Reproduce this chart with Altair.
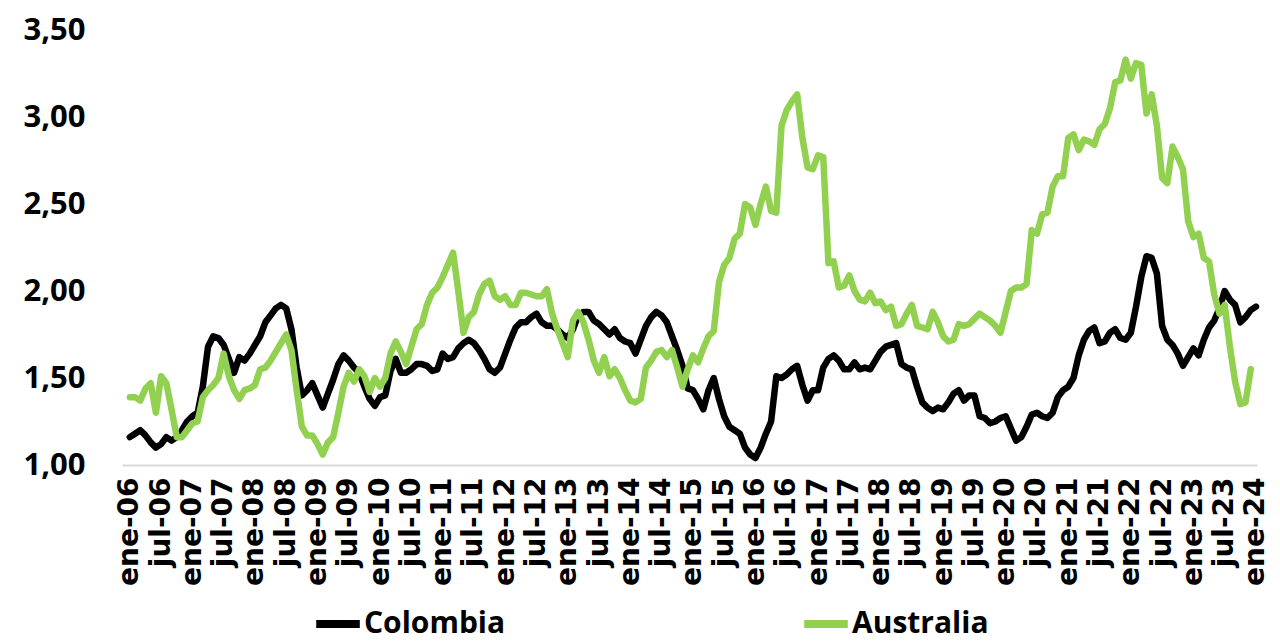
import json
import altair as alt
import pandas as pd

# Monthly series, ene-06 .. ene-24
colombia = [
    1.16, 1.18, 1.20, 1.17, 1.13, 1.10, 1.12, 1.16, 1.14, 1.16, 1.20, 1.25,
    1.28, 1.30, 1.45, 1.68, 1.74, 1.73, 1.69, 1.61, 1.53, 1.62, 1.60, 1.64,
    1.69, 1.74, 1.82, 1.86, 1.90, 1.92, 1.90, 1.78, 1.56, 1.40, 1.43, 1.47,
    1.40, 1.33, 1.41, 1.49, 1.58, 1.63, 1.60, 1.56, 1.53, 1.45, 1.38, 1.34,
    1.39, 1.40, 1.54, 1.61, 1.53, 1.53, 1.55, 1.58, 1.58, 1.57, 1.54, 1.55,
    1.64, 1.61, 1.62, 1.67, 1.70, 1.72, 1.70, 1.66, 1.61, 1.55, 1.53, 1.56,
    1.64, 1.72, 1.79, 1.82, 1.82, 1.85, 1.87, 1.82, 1.80, 1.80, 1.78, 1.75,
    1.73, 1.78, 1.86, 1.88, 1.88, 1.83, 1.81, 1.78, 1.75, 1.78, 1.73, 1.71,
    1.70, 1.64, 1.72, 1.80, 1.85, 1.88, 1.86, 1.82, 1.74, 1.66, 1.57, 1.44,
    1.43, 1.38, 1.32, 1.43, 1.50, 1.38, 1.28, 1.22, 1.20, 1.18, 1.10, 1.06,
    1.04, 1.10, 1.18, 1.25, 1.51, 1.50, 1.52, 1.55, 1.57, 1.46, 1.37, 1.43,
    1.43, 1.56, 1.61, 1.63, 1.60, 1.55, 1.55, 1.59, 1.55, 1.56, 1.55, 1.60,
    1.65, 1.68, 1.69, 1.70, 1.58, 1.56, 1.55, 1.45, 1.36, 1.33, 1.31, 1.33,
    1.32, 1.36, 1.41, 1.43, 1.37, 1.40, 1.40, 1.28, 1.27, 1.24, 1.25, 1.27,
    1.28, 1.21, 1.14, 1.16, 1.22, 1.29, 1.30, 1.28, 1.27, 1.30, 1.39, 1.43,
    1.45, 1.50, 1.63, 1.72, 1.77, 1.79, 1.70, 1.71, 1.76, 1.78, 1.73, 1.72,
    1.76, 1.91, 2.08, 2.20, 2.19, 2.10, 1.80, 1.72, 1.69, 1.64, 1.57, 1.62,
    1.67, 1.63, 1.72, 1.79, 1.83, 1.90, 2.00, 1.95, 1.92, 1.82, 1.85, 1.89,
    1.91,
]

australia = [
    1.39, 1.39, 1.37, 1.44, 1.47, 1.30, 1.51, 1.47, 1.32, 1.16, 1.16, 1.20,
    1.24, 1.25, 1.39, 1.43, 1.46, 1.50, 1.64, 1.51, 1.43, 1.38, 1.43, 1.44,
    1.46, 1.55, 1.56, 1.60, 1.65, 1.70, 1.75, 1.66, 1.43, 1.22, 1.17, 1.17,
    1.12, 1.06, 1.13, 1.16, 1.30, 1.45, 1.53, 1.48, 1.55, 1.51, 1.42, 1.50,
    1.45, 1.50, 1.64, 1.71, 1.65, 1.58, 1.68, 1.78, 1.81, 1.92, 1.99, 2.02,
    2.08, 2.15, 2.22, 2.00, 1.76, 1.85, 1.88, 1.98, 2.04, 2.06, 1.97, 1.95,
    1.97, 1.92, 1.92, 1.99, 1.99, 1.98, 1.97, 1.97, 2.01, 1.87, 1.78, 1.70,
    1.62, 1.83, 1.88, 1.82, 1.72, 1.60, 1.53, 1.62, 1.51, 1.55, 1.50, 1.43,
    1.37, 1.36, 1.38, 1.56, 1.60, 1.65, 1.66, 1.62, 1.66, 1.56, 1.45, 1.55,
    1.63, 1.59, 1.67, 1.74, 1.77, 2.05, 2.15, 2.19, 2.30, 2.33, 2.50, 2.48,
    2.38, 2.50, 2.60, 2.46, 2.45, 2.95, 3.04, 3.09, 3.13, 2.88, 2.71, 2.70,
    2.78, 2.77, 2.16, 2.17, 2.02, 2.03, 2.09, 2.00, 1.95, 1.94, 1.99, 1.93,
    1.94, 1.89, 1.91, 1.80, 1.81, 1.87, 1.92, 1.80, 1.79, 1.78, 1.88, 1.82,
    1.74, 1.71, 1.72, 1.81, 1.80, 1.81, 1.84, 1.87, 1.85, 1.83, 1.80, 1.76,
    1.88, 2.00, 2.02, 2.02, 2.04, 2.35, 2.33, 2.44, 2.45, 2.60, 2.66, 2.66,
    2.88, 2.90, 2.81, 2.87, 2.86, 2.84, 2.93, 2.96, 3.05, 3.20, 3.21, 3.33,
    3.22, 3.31, 3.30, 3.02, 3.13, 2.95, 2.65, 2.62, 2.83, 2.77, 2.70, 2.40,
    2.31, 2.33, 2.19, 2.17, 1.98, 1.87, 1.92, 1.68, 1.48, 1.35, 1.36, 1.55,
]

tick_labels = []
for yy in range(6, 25):
    tick_labels.append(f"ene-{yy:02d}")
    if yy < 24:
        tick_labels.append(f"jul-{yy:02d}")

series_names = ["Colombia", "Australia"]
series_colors = ["#000000", "#92D050"]
y_ticks = [1.0, 1.5, 2.0, 2.5, 3.0, 3.5]

df_col = pd.DataFrame({"m": list(range(len(colombia))), "v": colombia, "serie": "Colombia"})
df_aus = pd.DataFrame({"m": list(range(len(australia))), "v": australia, "serie": "Australia"})

FONT = "Open Sans"

x_enc = alt.X(
    "m:Q",
    scale=alt.Scale(domain=[-1.5, 216.2], nice=False, zero=False),
    axis=alt.Axis(
        values=[6 * i for i in range(len(tick_labels))],
        labelExpr=json.dumps(tick_labels) + "[round(datum.value / 6)]",
        labelAngle=-90,
        labelAlign="right",
        labelBaseline="middle",
        labelFont="DejaVu Sans",
        labelFontSize=28,
        labelFontWeight="bold",
        labelColor="#000000",
        labelPadding=12,
        labelOverlap=False,
        labelBound=False,
        labelFlush=False,
        ticks=False,
        grid=False,
        domain=True,
        domainColor="#d9d9d9",
        domainWidth=2,
        title=None,
    ),
)
y_enc = alt.Y(
    "v:Q",
    scale=alt.Scale(domain=[1.0, 3.5], nice=False, zero=False),
    axis=alt.Axis(
        values=y_ticks,
        labelExpr="replace(format(datum.value, '.2f'), '.', ',')",
        labelFont=FONT,
        labelFontSize=31,
        labelFontWeight="bold",
        labelColor="#000000",
        labelPadding=37,
        ticks=False,
        grid=False,
        domain=False,
        title=None,
    ),
)
color_enc = alt.Color(
    "serie:N",
    scale=alt.Scale(domain=series_names, range=series_colors),
    legend=alt.Legend(
        title=None,
        orient="none",
        direction="horizontal",
        legendX=190,
        legendY=568,
        symbolType="stroke",
        symbolStrokeWidth=8,
        symbolSize=1900,
        labelFont=FONT,
        labelFontSize=30,
        labelFontWeight="bold",
        labelColor="#000000",
        labelOffset=0,
        labelLimit=300,
        columnPadding=282,
    ),
)

base_col = alt.Chart(df_col).mark_line(strokeWidth=6.5, strokeJoin="round", strokeCap="round")
base_aus = alt.Chart(df_aus).mark_line(strokeWidth=6.5, strokeJoin="round", strokeCap="round")

chart = alt.layer(
    base_col.encode(x=x_enc, y=y_enc, color=color_enc),
    base_aus.encode(x=x_enc, y=y_enc, color=color_enc),
).properties(
    width=1135,
    height=435,
    autosize=alt.AutoSizeParams(type="none"),
    padding={"left": 114, "top": 22, "right": 15, "bottom": 176},
).configure_view(stroke=None)

chart.save("out.html", embed_options={"renderer": "svg", "actions": False})
